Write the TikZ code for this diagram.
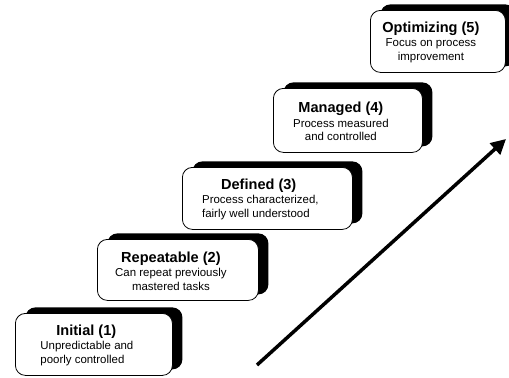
\documentclass[tikz,border=0pt]{standalone}
\usepackage{fontspec}
\setmainfont{Liberation Sans}
\usetikzlibrary{arrows.meta,shadows}
\newcommand{\ttlfont}{\fontsize{14.6}{17}\selectfont\bfseries}
\newcommand{\bdyfont}{\fontsize{11.5}{13.5}\selectfont}
\begin{document}
\begin{tikzpicture}[x=1bp,y=-1bp,
  stagebox/.style={draw=black, line width=0.8bp, fill=white, rounded corners=10bp,
    anchor=north west, inner sep=0pt,
    drop shadow={shadow xshift=10bp, shadow yshift=6bp, fill=black, opacity=1}},
  stagetext/.style={font=\bdyfont, inner sep=0pt, text=black, xshift=-7bp, yshift=-1bp},
  progress/.style={line width=3.5bp, -{Triangle[length=15bp,width=15bp]}}]
\useasboundingbox (0,0) rectangle (509,377);
\fill[white] (0,0) rectangle (509,377);
% boxes
\node[stagebox, minimum width=157bp, minimum height=62bp] (b1) at (15,313) {};
\node[stagebox, minimum width=161bp, minimum height=61bp] (b2) at (97,239) {};
\node[stagebox, minimum width=170bp, minimum height=62bp] (b3) at (182,167) {};
\node[stagebox, minimum width=149bp, minimum height=64bp] (b4) at (273,88) {};
\node[stagebox, minimum width=135bp, minimum height=62bp] (b5) at (370,10) {};
% texts
\node[stagetext, align=left] (t1) at (b1.center) {\hspace*{16bp}{\ttlfont Initial (1)}\\[1bp]Unpredictable and\\poorly controlled};
\node[stagetext, align=center] (t2) at (b2.center) {{\ttlfont Repeatable (2)}\\[1bp]Can repeat previously\\mastered tasks};
\node[stagetext, align=left] (t3) at (b3.center) {\hspace*{19bp}{\ttlfont Defined (3)}\\[1bp]Process characterized,\\fairly well understood};
\node[stagetext, align=center] (t4) at (b4.center) {{\ttlfont Managed (4)}\\[1bp]Process measured\\and controlled};
\node[stagetext, align=center] (t5) at (b5.center) {{\ttlfont Optimizing (5)}\\[1bp]Focus on process\\improvement};
% arrow
\coordinate (as) at (257,365);
\coordinate (ae) at (506,139);
\draw[progress] (as) -- (ae);
\end{tikzpicture}
\end{document}
